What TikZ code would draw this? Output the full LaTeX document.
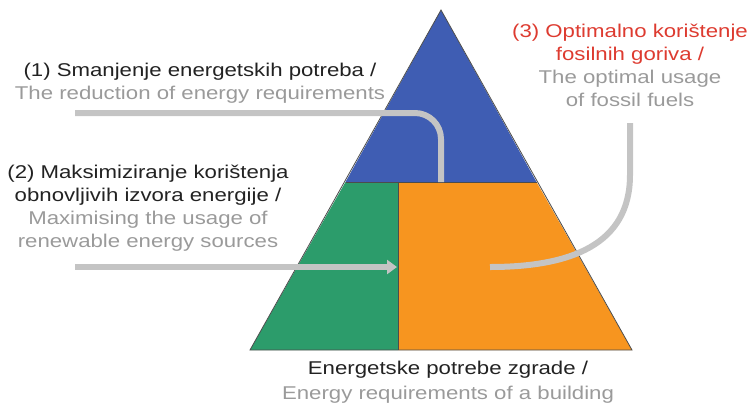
\documentclass[tikz,border=0pt]{standalone}
\usepackage{fontspec}
\setmainfont[FakeStretch=1.2]{Liberation Sans}
\usetikzlibrary{arrows.meta}
\definecolor{pblue}{HTML}{3F5DB3}
\definecolor{pgreen}{HTML}{2C9C6B}
\definecolor{porange}{HTML}{F7951F}
\definecolor{tdark}{HTML}{222222}
\definecolor{tgray}{HTML}{9A9A9A}
\definecolor{tred}{HTML}{DD3B30}
\definecolor{agray}{HTML}{C4C4C4}
\tikzset{
  region/.style={draw=black!70, line width=0.8pt, line join=miter},
  lbl/.style={align=center, font=\fontsize{18.5}{23}\selectfont, inner sep=0pt},
  conn/.style={draw=agray, line width=6pt},
}
\begin{document}
\begin{tikzpicture}[x=1pt,y=-1pt]
\useasboundingbox (0,0) rectangle (750,405);
% pyramid
\coordinate (apex) at (441,10);
\coordinate (bl) at (250,350);
\coordinate (br) at (632,350);
\coordinate (ml) at (345.5,182);
\coordinate (mr) at (536.5,182);
\coordinate (mm) at (398,182);
\coordinate (bm) at (398,350);
\fill[pblue] (apex) -- (mr) -- (ml) -- cycle;
\fill[pgreen] (ml) -- (mm) -- (bm) -- (bl) -- cycle;
\fill[porange] (mm) -- (mr) -- (br) -- (bm) -- cycle;
\draw[region] (apex) -- (br) -- (bl) -- cycle;
\draw[region] (ml) -- (mr);
\draw[region] (mm) -- (bm);
% labels
\node[lbl] (t1) at (200,83) {\textcolor{tdark}{(1) Smanjenje energetskih potreba /}\\\textcolor{tgray}{The reduction of energy requirements}};
\node[lbl] (t2) at (148,208) {\textcolor{tdark}{(2) Maksimiziranje korištenja}\\\textcolor{tdark}{obnovljivih izvora energije /}\\\textcolor{tgray}{Maximising the usage of}\\\textcolor{tgray}{renewable energy sources}};
\node[lbl] (t3) at (630,65) {\textcolor{tred}{(3) Optimalno korištenje}\\\textcolor{tred}{fosilnih goriva /}\\\textcolor{tgray}{The optimal usage}\\\textcolor{tgray}{of fossil fuels}};
\node[lbl, font=\fontsize{18.5}{25}\selectfont] (t4) at (448,382) {\textcolor{tdark}{Energetske potrebe zgrade /}\\\textcolor{tgray}{Energy requirements of a building}};
% connectors
\coordinate (s1) at (75,113);
\coordinate (c1) at (441,113);
\coordinate (e1) at (441,182);
\draw[conn, rounded corners=26pt] (s1) -- (c1) -- (e1);
\coordinate (s2) at (75,267);
\coordinate (e2) at (397,267);
\draw[conn, -{Triangle[length=10pt,width=14pt]}] (s2) -- (e2);
\coordinate (s3) at (630,123);
\coordinate (e3) at (490,267);
\draw[conn] (s3) -- (630,175) .. controls (630,245) and (570,267) .. (e3);
\end{tikzpicture}
\end{document}
